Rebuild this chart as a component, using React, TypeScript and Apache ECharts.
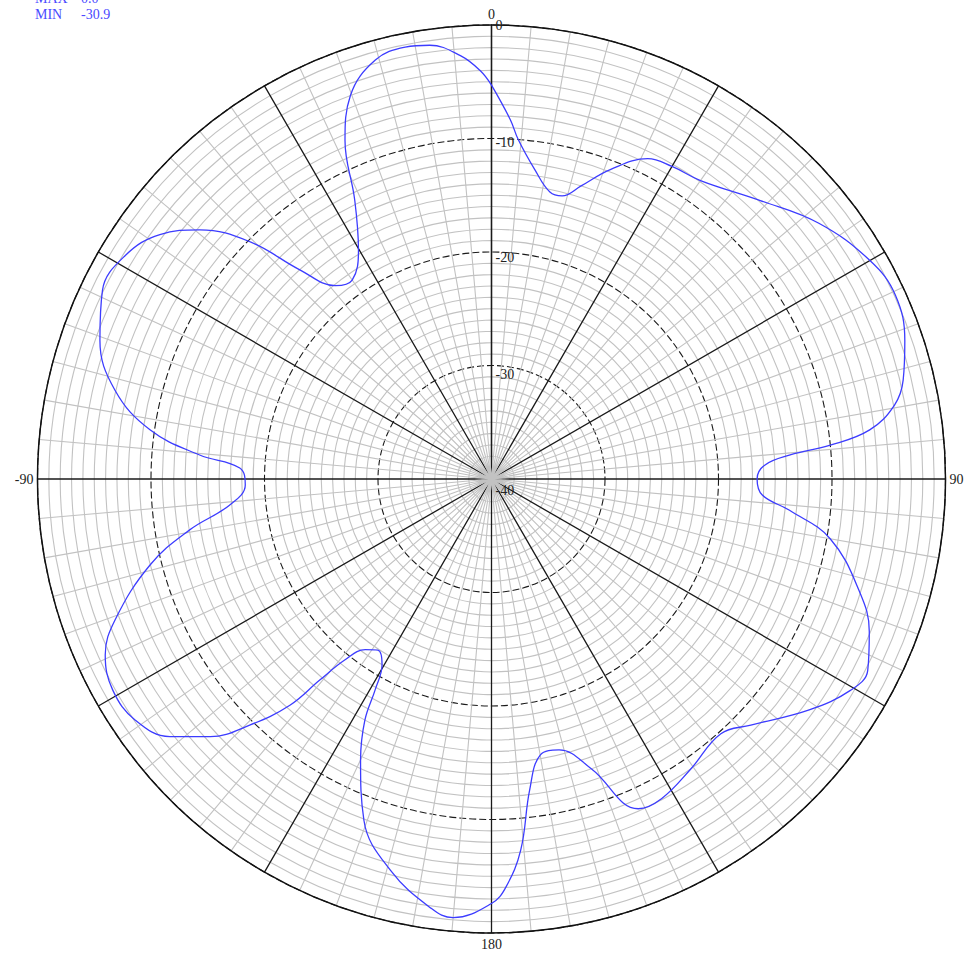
import React, { useEffect, useRef } from "react";
import * as echarts from "echarts";

// Antenna pattern: angle (deg, clockwise from top) and level (dB)
const angles: number[] = [
  0, 3, 4.5, 8, 11.5, 14, 17, 21, 26, 30, 35, 44, 52, 60, 65.5, 71.5, 76.5, 79.6, 82.6, 84.3,
  85.4, 87.1, 90, 93.4, 96, 100, 107, 112, 117, 120.5, 126, 133.5, 138, 145.5, 152, 156, 161,
  166, 170, 173, 175.5, 178, 180, 185, 188, 194.5, 200.5, 205, 207.7, 208.9, 210.5, 213.6,
  216.5, 219, 220.5, 221.7, 224.5, 227.5, 231.3, 235.9, 240.9, 245.5, 249.5, 255.9, 260.4,
  264.3, 268.6, 272.5, 274.7, 278.2, 283.3, 289.5, 295.9, 301.4, 306.4, 310.5, 314.5, 317.5,
  321.1, 325, 329.8, 333.9, 336.6, 339.8, 344.5, 348.7, 351.9, 355.8, 358.4, 360,
];
const levels: number[] = [
  -5.3, -8.3, -10.0, -12.5, -14.2, -14.3, -13.0, -10.8, -8.6, -8.2, -7.9, -5.9, -3.4, -1.5, -0.9,
  -1.6, -2.7, -3.9, -6.4, -10.0, -13.6, -15.9, -16.6, -16.1, -13.6, -9.7, -6.1, -4.1, -2.8, -3.3,
  -5.4, -8.5, -9.8, -9.0, -8.1, -8.2, -13.0, -15.4, -15.3, -12.4, -7.2, -4.0, -2.6, -1.2, -1.8,
  -4.4, -7.9, -12.7, -16.0, -18.8, -21.0, -21.9, -21.3, -19.5, -16.7, -13.3, -9.6, -6.4, -3.7,
  -2.1, -1.8, -2.6, -4.6, -9.0, -13.0, -16.8, -18.3, -17.8, -14.2, -9.6, -5.9, -3.4, -1.9, -2.2,
  -3.7, -6.2, -10.2, -15.0, -18.1, -18.6, -16.7, -12.6, -7.5, -4.0, -1.7, -1.2, -1.4, -2.6, -4.0,
  -5.3,
];

const angleTickValues: number[] = [0, 90, 180, 270];
const angleTickLabels: string[] = ["0", "90", "180", "-90"];

const statNames: string[] = ["MAX", "MIN"];
const statValues: string[] = ["0.0", "-30.9"];

const SERIF = '"Liberation Serif", "DejaVu Serif", serif';
const CENTER = [491.5, 479];
const RADIUS = 454;

export default function App() {
  const ref = useRef<HTMLDivElement>(null);

  useEffect(() => {
    if (!ref.current) return;
    const chart = echarts.init(ref.current, null, { renderer: "svg" });
    const data = angles.map((a, i) => [levels[i], a]);
    const labelStyle = { fontFamily: SERIF, fontSize: 14, color: "#222" };

    const option: any = {
      animation: false,
      backgroundColor: "#ffffff",
      polar: [
        { center: CENTER, radius: RADIUS },
        { center: CENTER, radius: RADIUS },
      ],
      angleAxis: [
        {
          polarIndex: 0,
          type: "value",
          min: 0,
          max: 360,
          interval: 30,
          startAngle: 90,
          clockwise: true,
          z: 2,
          axisLine: { show: true, lineStyle: { color: "#111", width: 1.5 } },
          axisTick: { show: false },
          minorTick: { show: false, splitNumber: 6 },
          axisLabel: {
            margin: 4,
            ...labelStyle,
            formatter: (v: number) => {
              const k = angleTickValues.indexOf(v);
              return k >= 0 ? angleTickLabels[k] : "";
            },
          },
          splitLine: { show: true, lineStyle: { color: "#1a1a1a", width: 1.3 } },
          minorSplitLine: { show: true, lineStyle: { color: "#c2c2c2", width: 1.1 } },
        },
        {
          polarIndex: 1,
          type: "value",
          min: 0,
          max: 360,
          startAngle: 90,
          clockwise: true,
          show: false,
        },
      ],
      radiusAxis: [
        {
          polarIndex: 0,
          type: "value",
          min: -40,
          max: 0,
          interval: 10,
          z: 1,
          axisLine: { show: true, lineStyle: { color: "#111", width: 1.3 } },
          axisTick: { show: false },
          axisLabel: { show: false },
          minorTick: { show: false, splitNumber: 10 },
          splitLine: { show: true, lineStyle: { color: "#1a1a1a", width: 1.1, type: [7, 3] } },
          minorSplitLine: { show: true, lineStyle: { color: "#c2c2c2", width: 1.1 } },
        },
        {
          polarIndex: 1,
          type: "value",
          min: -40,
          max: 0,
          interval: 10,
          z: 5,
          axisLine: { show: false },
          axisTick: { show: false },
          splitLine: { show: false },
          axisLabel: {
            margin: -4,
            align: "left",
            verticalAlign: "middle",
            ...labelStyle,
            formatter: (v: number) => `{r${Math.round(-v)}|${v}}`,
            rich: {
              r0: { ...labelStyle, padding: [0, 0, 0, 0] },
              r10: { ...labelStyle, padding: [8, 0, 0, 0] },
              r20: { ...labelStyle, padding: [10, 0, 0, 0] },
              r30: { ...labelStyle, padding: [18, 0, 0, 0] },
              r40: { ...labelStyle, padding: [22, 0, 0, 0] },
            },
          },
        },
      ],
      graphic: statNames.flatMap((n, i) => [
        {
          type: "text",
          left: 35,
          top: -9 + i * 16,
          style: { text: n, font: `14px ${SERIF}`, fill: "#4a4aff" },
        },
        {
          type: "text",
          left: 81,
          top: -9 + i * 16,
          style: { text: statValues[i], font: `14px ${SERIF}`, fill: "#4a4aff" },
        },
      ]),
      series: [
        {
          type: "line",
          coordinateSystem: "polar",
          polarIndex: 0,
          data,
          smooth: 0.4,
          showSymbol: false,
          symbol: "none",
          lineStyle: { color: "#3c3cff", width: 1.3 },
          z: 10,
        },
      ],
    };
    chart.setOption(option);
    return () => chart.dispose();
  }, []);

  return (
    <div
      ref={ref}
      style={{ position: "fixed", left: 0, top: 0, width: 971, height: 956 }}
    />
  );
}
